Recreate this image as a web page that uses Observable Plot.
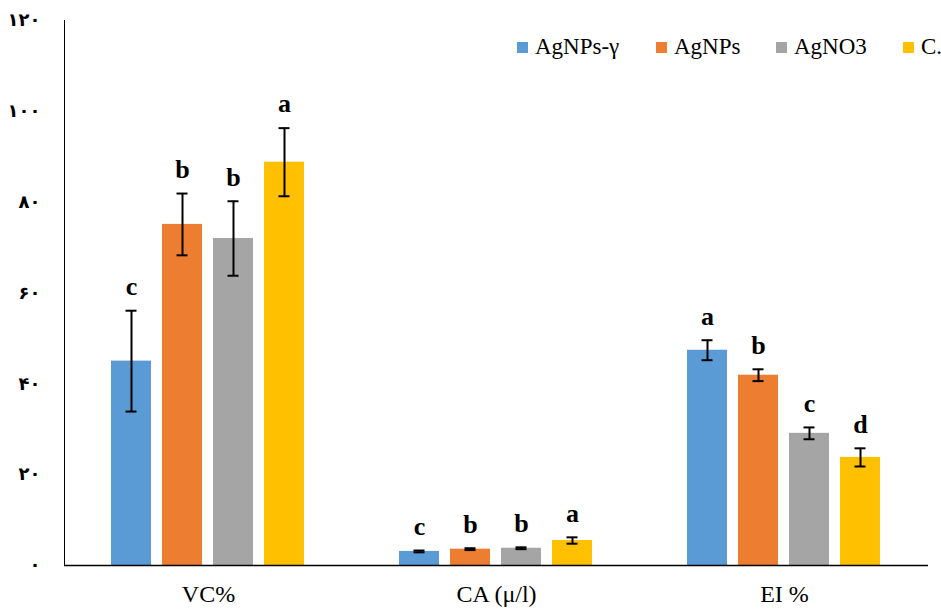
<!DOCTYPE html>
<html>
<head>
<meta charset="utf-8">
<script src="https://cdn.jsdelivr.net/npm/d3@7"></script>
<script src="https://cdn.jsdelivr.net/npm/@observablehq/plot@0.6"></script>
<style>
  html, body { margin: 0; padding: 0; background: #fff; }
  #wrap { position: relative; width: 941px; height: 610px; overflow: hidden; }
  #legend { position: absolute; left: 0; top: 33px; width: 941px; height: 30px;
            font-family: "Liberation Serif", serif; font-size: 23px; color: #000; white-space: nowrap; }
  #legend .item { position: absolute; top: 0; display: flex; align-items: center; height: 28px; }
  #legend .sw { width: 11px; height: 11px; margin-right: 7px; }
  g[aria-label="y-axis tick label"] text { font-family: "DejaVu Sans", sans-serif; font-weight: bold; font-size: 18px; }
  g[aria-label="fx-axis tick label"] text { font-family: "Liberation Serif", serif; font-size: 24px; }
</style>
</head>
<body>
<div id="wrap"><div id="legend"></div></div>
<script>
const groups = ["VC%", "CA (μ/l)", "EI %"];
const series = ["AgNPs-γ", "AgNPs", "AgNO3", "C."];
const colors = ["#5B9BD5", "#ED7D31", "#A5A5A5", "#FFC000"];

const valAgNPsG = [45.0, 3.1, 47.4];
const valAgNPs  = [75.1, 3.6, 41.9];
const valAgNO3  = [72.0, 3.8, 29.1];
const valC      = [88.8, 5.5, 23.8];

const errAgNPsG = [11.1, 0.2, 2.2];
const errAgNPs  = [6.8, 0.2, 1.3];
const errAgNO3  = [8.2, 0.2, 1.3];
const errC      = [7.5, 0.7, 2.0];

const letAgNPsG = ["c", "c", "a"];
const letAgNPs  = ["b", "b", "b"];
const letAgNO3  = ["b", "b", "c"];
const letC      = ["a", "a", "d"];

const yTicks = [0, 20, 40, 60, 80, 100, 120];
const yTickLabels = ["۰", "۲۰", "۴۰", "۶۰", "۸۰", "۱۰۰", "۱۲۰"];

const vals = [valAgNPsG, valAgNPs, valAgNO3, valC];
const errs = [errAgNPsG, errAgNPs, errAgNO3, errC];
const lets = [letAgNPsG, letAgNPs, letAgNO3, letC];

const data = [];
groups.forEach((g, gi) => series.forEach((s, si) => {
  data.push({group: g, series: s, value: vals[si][gi], err: errs[si][gi], letter: lets[si][gi]});
}));

const chart = Plot.plot({
  width: 941, height: 610,
  marginLeft: 63, marginRight: 13, marginTop: 20, marginBottom: 45,
  style: {fontFamily: "Liberation Serif", background: "white", color: "black"},
  fx: {domain: groups, padding: 0, axis: "bottom", tickSize: 0, tickPadding: 19, label: null},
  x: {domain: series, paddingInner: 0.21, paddingOuter: 0.875, axis: null},
  y: {domain: [0, 120], ticks: yTicks, tickFormat: d => yTickLabels[yTicks.indexOf(d)],
      tickSize: 0, tickPadding: 24, line: true, label: null},
  color: {domain: series, range: colors},
  marks: [
    Plot.barY(data, {fx: "group", x: "series", y: "value", fill: "series"}),
    Plot.ruleX(data, {fx: "group", x: "series", y1: d => d.value - d.err, y2: d => d.value + d.err, stroke: "black", strokeWidth: 2}),
    Plot.tickY(data, {fx: "group", x: "series", y: d => d.value + d.err, stroke: "black", strokeWidth: 2, insetLeft: 14.5, insetRight: 14.5}),
    Plot.tickY(data, {fx: "group", x: "series", y: d => d.value - d.err, stroke: "black", strokeWidth: 2, insetLeft: 14.5, insetRight: 14.5}),
    Plot.text(data, {fx: "group", x: "series", y: d => d.value + d.err, text: "letter", dy: -24,
      fontWeight: "bold", fontSize: 26, fontFamily: "Liberation Serif", fill: "black"}),
    Plot.ruleY([0], {stroke: "black", strokeWidth: 1.5})
  ]
});
document.getElementById("wrap").prepend(chart);

const legendLeft = [517, 656, 776, 903];
const legend = document.getElementById("legend");
series.forEach((s, i) => {
  const item = document.createElement("div");
  item.className = "item";
  item.style.left = legendLeft[i] + "px";
  const sw = document.createElement("div");
  sw.className = "sw";
  sw.style.background = colors[i];
  const t = document.createElement("span");
  t.textContent = s;
  item.appendChild(sw); item.appendChild(t);
  legend.appendChild(item);
});
</script>
</body>
</html>
